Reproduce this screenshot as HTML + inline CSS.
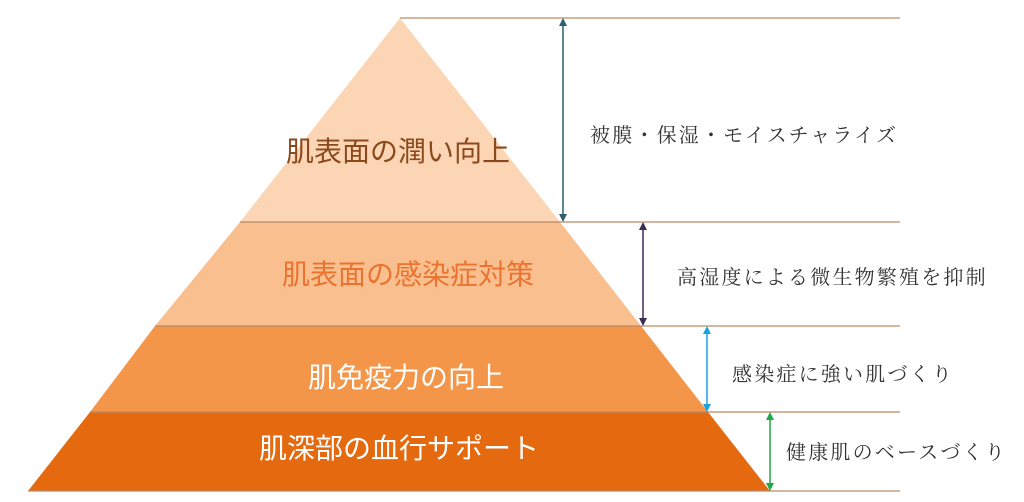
<!DOCTYPE html>
<html><head><meta charset="utf-8"><style>
body{margin:0;background:#fff;width:1024px;height:502px;overflow:hidden}
svg{display:block}
.s{font-family:"Liberation Sans","Noto Sans CJK JP",sans-serif;font-size:28px}
.r{font-family:"Liberation Serif","Noto Serif CJK SC",serif;font-size:20px;letter-spacing:2.2px;fill:#333}
</style></head><body>
<svg width="1024" height="502" viewBox="0 0 1024 502">
<defs>
<marker id="a1" markerWidth="8" markerHeight="8" refX="4" refY="4" orient="auto-start-reverse" markerUnits="userSpaceOnUse"><path d="M0,0L8,4L0,8z" fill="#2e5f6e"/></marker>
<marker id="a2" markerWidth="8" markerHeight="8" refX="4" refY="4" orient="auto-start-reverse" markerUnits="userSpaceOnUse"><path d="M0,0L8,4L0,8z" fill="#3b2d55"/></marker>
<marker id="a3" markerWidth="8" markerHeight="8" refX="4" refY="4" orient="auto-start-reverse" markerUnits="userSpaceOnUse"><path d="M0,0L8,4L0,8z" fill="#1aa3e0"/></marker>
<marker id="a4" markerWidth="8" markerHeight="8" refX="4" refY="4" orient="auto-start-reverse" markerUnits="userSpaceOnUse"><path d="M0,0L8,4L0,8z" fill="#1fa84a"/></marker>
</defs>
<polygon points="400,18 560,222 240,222" fill="#fcd5b4"/>
<polygon points="240,222 560,222 641,326 155,326" fill="#f9bf8f"/>
<polygon points="155,326 641,326 708,412 90,412" fill="#f4964a"/>
<polygon points="90,412 708,412 770,491 28,491" fill="#e4690f"/>
<g stroke="#b88a68" stroke-width="1.3">
<line x1="400" y1="18" x2="900" y2="18"/>
<line x1="240" y1="222" x2="900" y2="222"/>
<line x1="155" y1="326" x2="900" y2="326"/>
<line x1="90" y1="412" x2="900" y2="412"/>
<line x1="28" y1="491" x2="900" y2="491"/>
</g>
<line x1="563" y1="22" x2="563" y2="218" stroke="#2e5f6e" stroke-width="1.5" marker-start="url(#a1)" marker-end="url(#a1)"/>
<line x1="643" y1="226" x2="643" y2="322" stroke="#3b2d55" stroke-width="1.5" marker-start="url(#a2)" marker-end="url(#a2)"/>
<line x1="707" y1="330" x2="707" y2="408" stroke="#1aa3e0" stroke-width="1.5" marker-start="url(#a3)" marker-end="url(#a3)"/>
<line x1="770" y1="416" x2="770" y2="487" stroke="#1fa84a" stroke-width="1.5" marker-start="url(#a4)" marker-end="url(#a4)"/>
<text class="s" x="398" y="161" text-anchor="middle" fill="#8a4a1e">肌表面の潤い向上</text>
<text class="s" x="408" y="284" text-anchor="middle" fill="#ea7330">肌表面の感染症対策</text>
<text class="s" x="406" y="387" text-anchor="middle" fill="#fff">肌免疫力の向上</text>
<text class="s" x="399" y="458" text-anchor="middle" fill="#fff">肌深部の血行サポート</text>
<text class="r" x="590" y="142">被膜・保湿・モイスチャライズ</text>
<text class="r" x="677" y="284">高湿度による微生物繁殖を抑制</text>
<text class="r" x="732" y="381">感染症に強い肌づくり</text>
<text class="r" x="786" y="459">健康肌のベースづくり</text>
</svg>
</body></html>
